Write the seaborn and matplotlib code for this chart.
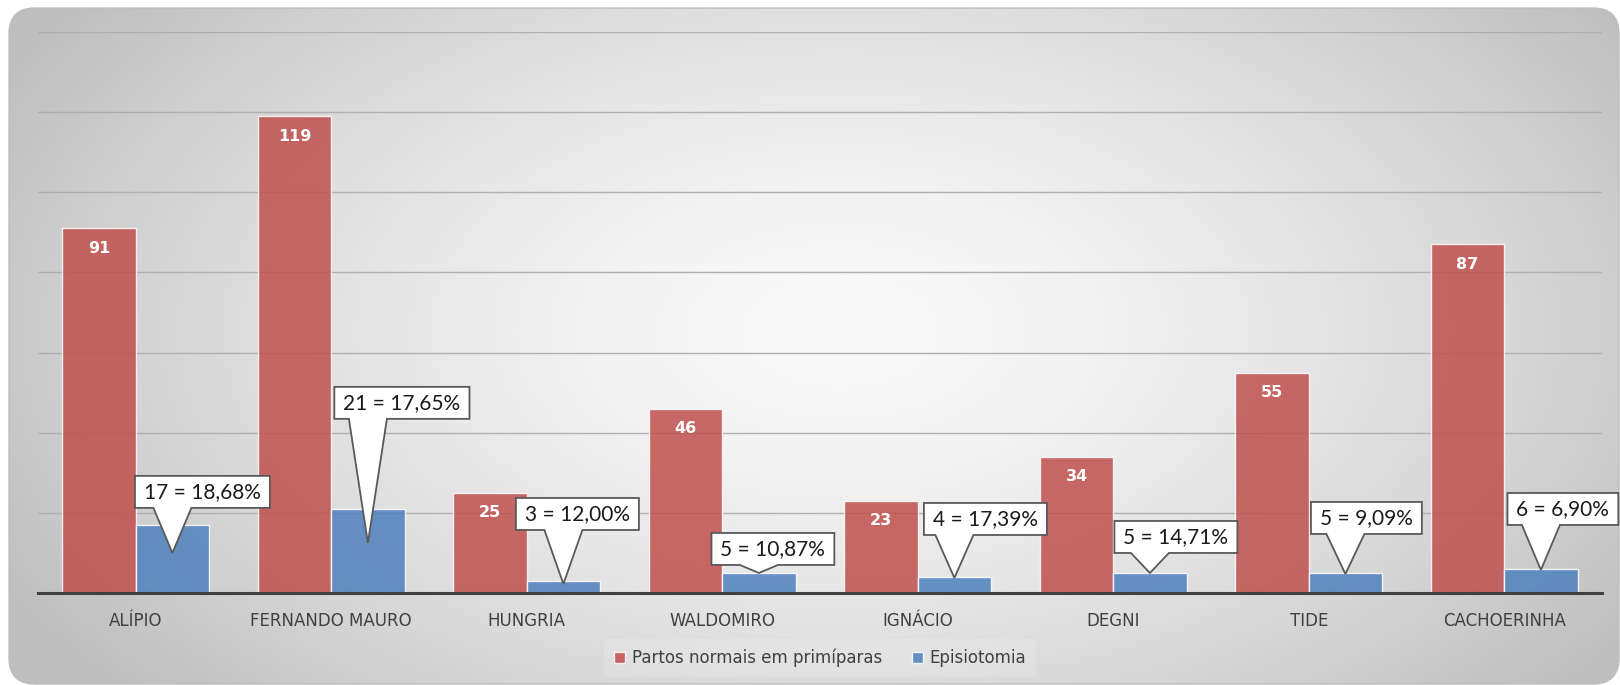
import numpy as np
import pandas as pd
import matplotlib
matplotlib.use("Agg")
import matplotlib.pyplot as plt
from matplotlib.patches import FancyBboxPatch, Polygon
import seaborn as sns

# ---- data -------------------------------------------------------------
locais = ["ALÍPIO", "FERNANDO MAURO", "HUNGRIA", "WALDOMIRO",
          "IGNÁCIO", "DEGNI", "TIDE", "CACHOERINHA"]
partos = [91, 119, 25, 46, 23, 34, 55, 87]
episiotomia = [17, 21, 3, 5, 4, 5, 5, 6]
series = ["Partos normais em primíparas", "Episiotomia"]

# callout placement in pixels: box centre offset from the bar top,
# and how far below the bar top the pointer ends
callout_dx = [30, 34, 14, 14, 31, 26, 21, 22]
callout_dy = [33, 106, 67, 24, 58, 36, 55, 60]
callout_tip = [28, 34, 3, 0, 1, 0, 1, 1]

W, H, DPI = 1620, 685, 100
RED, BLUE = "#C0504D", "#4F81BD"

sns.set_theme(style="white")
plt.rcParams["font.family"] = ["DejaVu Sans"]

fig = plt.figure(figsize=(W / DPI, H / DPI), dpi=DPI, facecolor="white")

# ---- rounded panel with a soft radial shade ----------------------------
bg = fig.add_axes([0, 0, 1, 1], zorder=-10)
bg.axis("off")
yy, xx = np.mgrid[0:H, 0:W]
r = np.sqrt(((xx - 840) / 900) ** 2 + ((yy - 330) / 520) ** 2)
shade = np.clip(250 - 55 * r ** 1.5, 190, 255) / 255
img = np.dstack([shade] * 3)
panel = FancyBboxPatch((9, 8), 1610, 676,
                       boxstyle="round,pad=0,rounding_size=26",
                       facecolor="none", edgecolor="#BDBDBD", lw=1.0, zorder=2)
im = bg.imshow(img, extent=(0, W, H, 0), interpolation="bilinear",
               aspect="auto", zorder=1)
bg.add_patch(panel)
im.set_clip_path(panel)
bg.set_xlim(0, W)
bg.set_ylim(H, 0)

# ---- bars --------------------------------------------------------------
ax = fig.add_axes([38 / W, 1 - 593 / H, (1602 - 38) / W, (593 - 32) / H])
ax.set_facecolor("none")

df = pd.DataFrame({
    "local": locais * 2,
    "valor": partos + episiotomia,
    "serie": [series[0]] * len(locais) + [series[1]] * len(locais),
})
sns.barplot(data=df, x="local", y="valor", hue="serie",
            palette=[RED, BLUE], saturation=1, width=0.75, alpha=0.85,
            edgecolor=(1, 1, 1, 0.6), linewidth=1.0, ax=ax, zorder=2)

ax.set_xlim(-0.5, len(locais) - 0.5)
ax.set_ylim(0, 140)
ax.set_yticks(range(0, 141, 20))
ax.set_yticklabels([])
ax.yaxis.grid(True, color="#AFAFAF", lw=1.0)
ax.set_axisbelow(True)
ax.tick_params(axis="y", length=0)
ax.tick_params(axis="x", length=0, pad=13.5, labelsize=12, labelcolor="#404040")
ax.set_xlabel("")
ax.set_ylabel("")
for side in ["left", "right", "top"]:
    ax.spines[side].set_visible(False)
ax.spines["bottom"].set_color("#404040")
ax.spines["bottom"].set_linewidth(2.2)

# value labels inside the red bars
for p, v in zip(ax.containers[0], partos):
    ax.annotate(f"{v}", (p.get_x() + p.get_width() / 2, v),
                xytext=(0, -20), textcoords="offset pixels",
                ha="center", va="center", color="white",
                fontweight="bold", fontsize=11.5, zorder=5)

# ---- callouts for the blue bars -----------------------------------------
fig.canvas.draw()
renderer = fig.canvas.get_renderer()
to_data = ax.transData.inverted()
for i, (p, v, base) in enumerate(zip(ax.containers[1], episiotomia, partos)):
    cx = p.get_x() + p.get_width() / 2
    X, Y = ax.transData.transform((cx, v))
    bx, by = X + callout_dx[i], Y + callout_dy[i]
    label = f"{v} = {v / base * 100:.2f}%".replace(".", ",")
    t = ax.text(*to_data.transform((bx, by)), label, ha="center", va="center",
                fontsize=15, family=["Lato", "DejaVu Sans"], color="#1A1A1A",
                zorder=9, clip_on=False)
    tw = t.get_window_extent(renderer).width
    L, R = bx - tw / 2 - 9, bx + tw / 2 + 9
    B, T = by - 16, by + 16
    tx, ty = X, Y - callout_tip[i]
    half = 19
    x0, x1 = max(L + 6, tx - half), min(R - 6, tx + half)
    verts = [(L, T), (R, T), (R, B), (x1, B), (tx, ty), (x0, B), (L, B)]
    ax.add_patch(Polygon(to_data.transform(verts), closed=True,
                         facecolor="white", edgecolor="#595959", lw=1.3,
                         zorder=8, clip_on=False, joinstyle="miter"))

# ---- legend ------------------------------------------------------------
handles, labels = ax.get_legend_handles_labels()
leg = ax.legend(handles, labels, loc="center", bbox_to_anchor=(0.5, -0.116),
                ncol=2, frameon=True, fontsize=12, handlelength=0.65,
                handleheight=0.65, handletextpad=0.4, columnspacing=1.8,
                borderpad=0.6, fancybox=False, framealpha=0.15,
                facecolor="white", edgecolor="none")
for txt in leg.get_texts():
    txt.set_color("#404040")

fig.savefig("out.png", dpi=DPI, facecolor="white")
